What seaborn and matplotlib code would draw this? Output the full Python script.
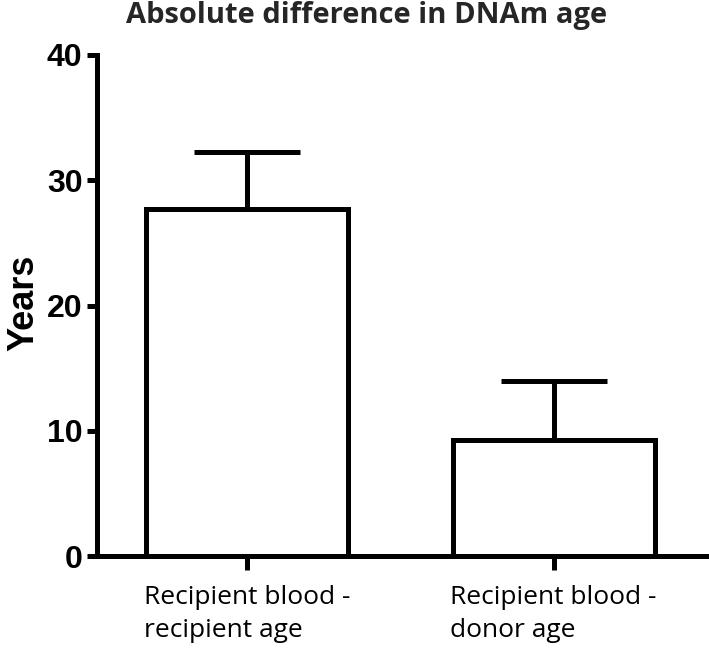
import numpy as np
import pandas as pd
import seaborn as sns
import matplotlib.pyplot as plt

groups = ["Recipient blood -\nrecipient age", "Recipient blood -\ndonor age"]
means = [27.7, 9.26]
upper_err = [4.56, 4.71]
yticks = [0, 10, 20, 30, 40]

df = pd.DataFrame({"group": groups, "years": means})

sns.set_style("ticks")

fig = plt.figure(figsize=(7.09, 6.5), dpi=100)
ax = fig.add_axes([0.137, 0.1446, 0.86, 0.7708])

lw = 3.6
sns.barplot(data=df, x="group", y="years", width=0.66, color="white",
            edgecolor="black", linewidth=lw, errorbar=None, ax=ax)
ax.errorbar(np.arange(len(means)), means, yerr=[np.zeros(len(means)), upper_err],
            fmt="none", ecolor="black", elinewidth=lw, capsize=38, capthick=lw,
            zorder=1)

ax.set_ylim(0, 40)
ax.set_xlim(-0.49, 1.5)
ax.set_yticks(yticks)
ax.set_xlabel("")
ax.set_ylabel("Years", fontsize=26, fontweight="bold", family="Liberation Sans",
              color="black")
ax.yaxis.label.set_va("center")
ax.yaxis.set_label_coords(-0.12, 0.505)
sns.despine(ax=ax)
for s in ["left", "bottom"]:
    ax.spines[s].set_linewidth(lw)
    ax.spines[s].set_color("black")
ax.tick_params(axis="both", width=lw, length=7, colors="black")
ax.tick_params(axis="x", length=10, pad=11)
for t in ax.get_yticklabels():
    t.set_family("Liberation Sans")
    t.set_fontweight("bold")
    t.set_fontsize(23)
for t in ax.get_xticklabels():
    t.set_family("Open Sans")
    t.set_fontsize(19)
    t.set_ha("center")
    t.set_multialignment("left")
    t.set_linespacing(1.42)

fig.text(0.517, 0.976, "Absolute difference in DNAm age", ha="center", va="center",
         fontsize=21, fontweight="bold", family="Open Sans")

fig.savefig("out.png", dpi=100)
